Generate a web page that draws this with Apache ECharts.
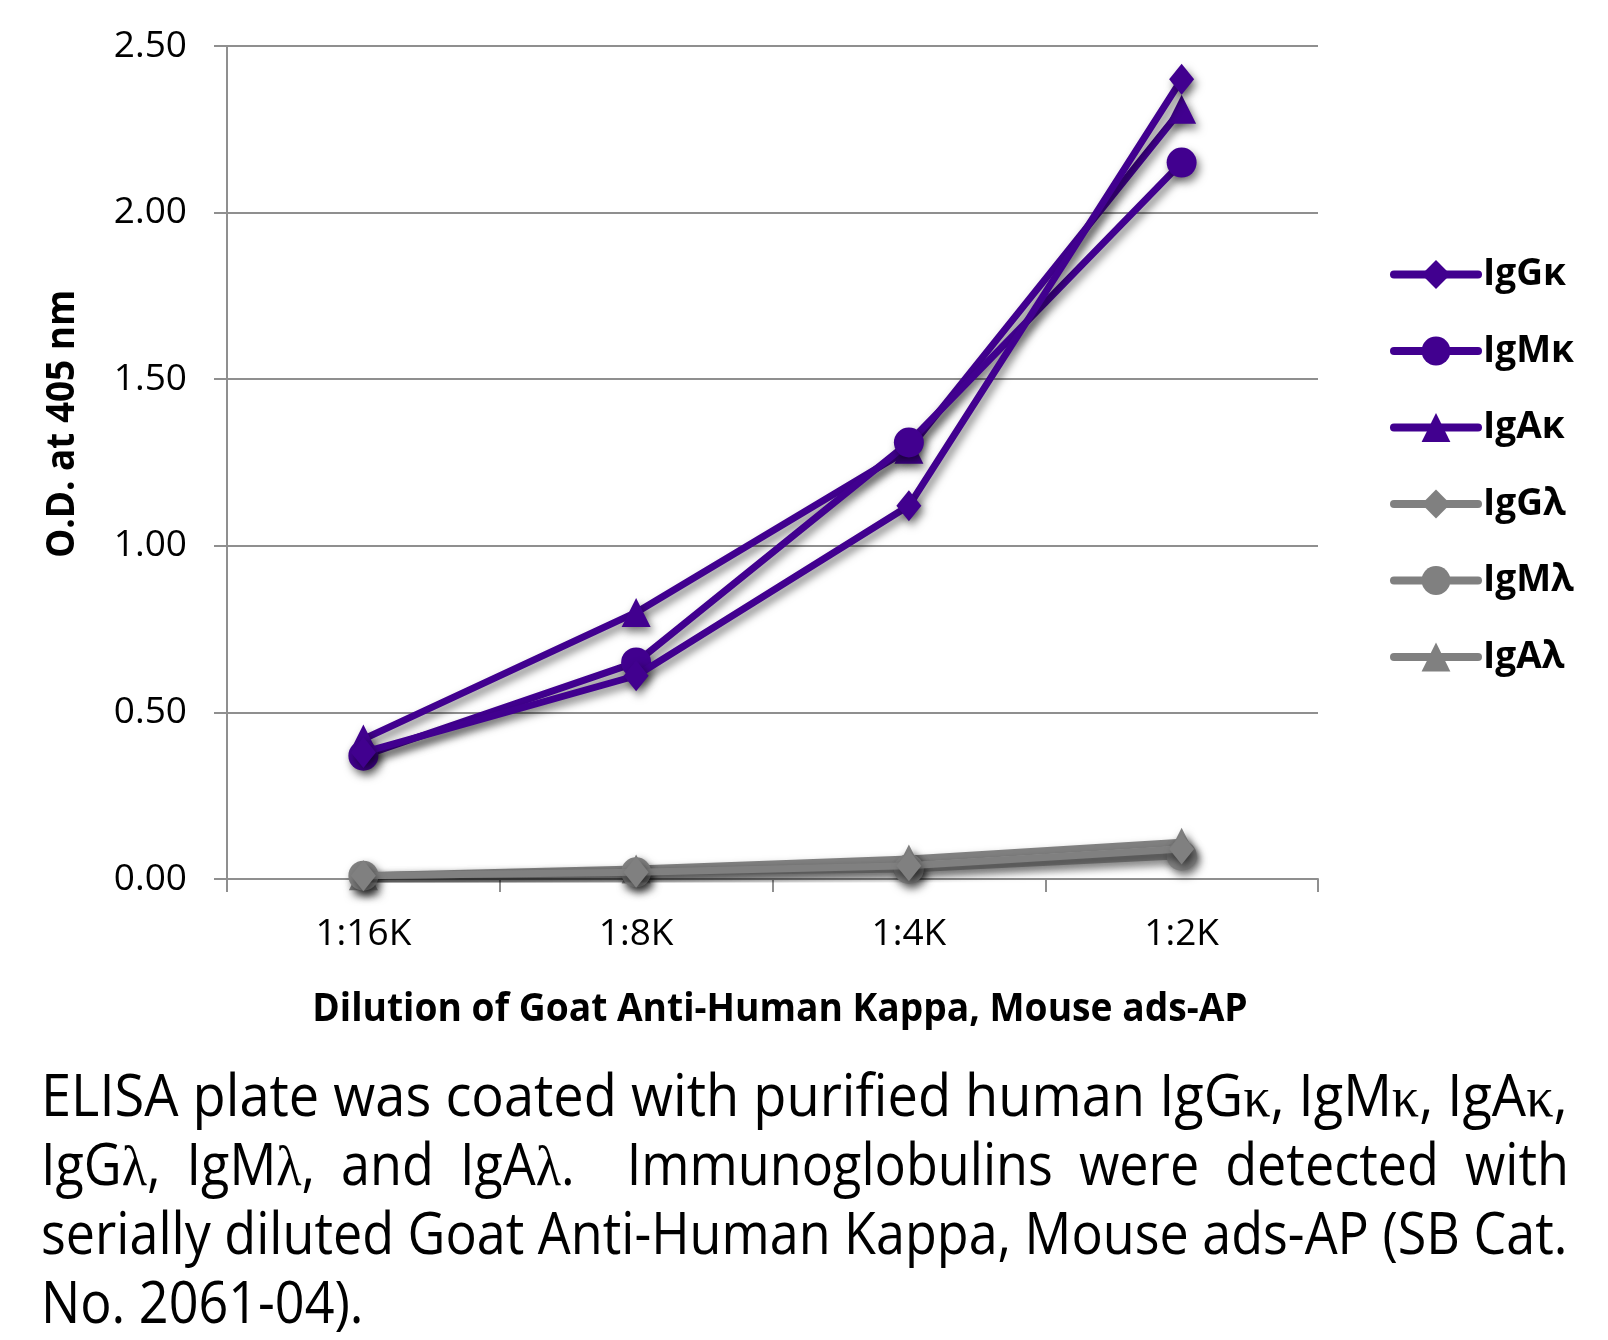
<!DOCTYPE html>
<html>
<head>
<meta charset="utf-8">
<script src="https://cdn.jsdelivr.net/npm/echarts@6/dist/echarts.min.js"></script>
<style>
  html, body { margin: 0; padding: 0; background: #fff; }
  #chart { position: absolute; left: 0; top: 0; width: 1608px; height: 1340px; }
  #caption { position: absolute; left: 41px; top: 1059px; width: 1528px; }
  .cl { font-family: "Open Sans", sans-serif; font-size: 58px; line-height: 69px; height: 69px;
        color: #000; white-space: nowrap; transform-origin: 0 0; }
  .j { text-align: justify; text-align-last: justify; }
  .g { font-family: "Liberation Serif", "DejaVu Serif", serif; }
</style>
</head>
<body>
<div id="chart"></div>
<div id="caption"></div>
<script>
// ---- data ----
const categories = ['1:16K', '1:8K', '1:4K', '1:2K'];
const seriesNames = ['IgGκ', 'IgMκ', 'IgAκ', 'IgGλ', 'IgMλ', 'IgAλ'];
const IgGk = [0.38, 0.61, 1.12, 2.40];
const IgMk = [0.37, 0.65, 1.31, 2.15];
const IgAk = [0.42, 0.80, 1.29, 2.31];
const IgGl = [0.01, 0.02, 0.04, 0.09];
const IgMl = [0.01, 0.02, 0.03, 0.07];
const IgAl = [0.01, 0.03, 0.06, 0.11];
const yMin = 0, yMax = 2.5, yStep = 0.5;
const yTitle = 'O.D. at 405 nm';
const xTitle = 'Dilution of Goat Anti-Human Kappa, Mouse ads-AP';
const captionLines = [
  'ELISA plate was coated with purified human IgG{κ}, IgM{κ}, IgA{κ},',
  'IgG{λ}, IgM{λ}, and IgA{λ}.\u00a0 Immunoglobulins were detected with',
  'serially diluted Goat Anti-Human Kappa, Mouse ads-AP (SB Cat.',
  'No. 2061-04).'
];

// ---- styles ----
const PURPLE = '#41008f';
const GRAY = '#808080';
const AXIS = '#8f8f8f';
const values = [IgGk, IgMk, IgAk, IgGl, IgMl, IgAl];
const colors = [PURPLE, PURPLE, PURPLE, GRAY, GRAY, GRAY];
const symbols = ['diamond', 'circle', 'triangle', 'diamond', 'circle', 'triangle'];
const sizes = [[25, 31], 30, [29, 29], [25, 31], 30, [29, 29]];

const series = seriesNames.map((name, i) => ({
  name: name,
  type: 'line',
  data: values[i],
  symbol: symbols[i],
  symbolSize: sizes[i],
  showAllSymbol: true,
  color: colors[i],
  lineStyle: {
    color: colors[i], width: 7, cap: 'round', join: 'round',
    shadowColor: 'rgba(0,0,0,0.5)', shadowBlur: 8, shadowOffsetX: 3, shadowOffsetY: 5
  },
  itemStyle: {
    color: colors[i],
    shadowColor: 'rgba(0,0,0,0.5)', shadowBlur: 8, shadowOffsetX: 3, shadowOffsetY: 5
  },
  emphasis: { disabled: true },
  z: 10 - i
}));

const chart = echarts.init(document.getElementById('chart'), null, { renderer: 'canvas' });
chart.setOption({
  animation: false,
  backgroundColor: '#ffffff',
  grid: { left: 227, right: 290, top: 46, bottom: 461, containLabel: false },
  xAxis: {
    type: 'category',
    data: categories,
    boundaryGap: true,
    axisLine: { show: true, lineStyle: { color: AXIS, width: 2 } },
    axisTick: { show: true, length: 13, interval: 0, lineStyle: { color: AXIS, width: 2 } },
    axisLabel: { margin: 37, color: '#000', fontFamily: 'Open Sans', fontSize: 37 },
    splitLine: { show: false }
  },
  yAxis: {
    type: 'value',
    min: yMin, max: yMax, interval: yStep,
    axisLine: { show: true, lineStyle: { color: AXIS, width: 2 } },
    axisTick: { show: true, length: 13, inside: false, lineStyle: { color: AXIS, width: 2 } },
    axisLabel: { margin: 40, color: '#000', fontFamily: 'Open Sans', fontSize: 37,
                 formatter: v => v.toFixed(2) },
    splitLine: { show: true, lineStyle: { color: AXIS, width: 2 } }
  },
  legend: {
    orient: 'vertical',
    left: 1390, top: 256, padding: 0,
    itemWidth: 84, itemHeight: 36, itemGap: 39.5,
    data: seriesNames,
    textStyle: { color: '#000', fontFamily: 'Open Sans', fontWeight: 'bold', fontSize: 37, lineHeight: 37 },
    lineStyle: { width: 8, cap: 'round', shadowBlur: 0, shadowOffsetX: 0, shadowOffsetY: 0, shadowColor: 'transparent' },
    itemStyle: { shadowBlur: 0, shadowOffsetX: 0, shadowOffsetY: 0, shadowColor: 'transparent' },
    selectedMode: false
  },
  graphic: [
    {
      type: 'text', x: 63, y: 424, rotation: Math.PI / 2, scaleX: 0.945, silent: true,
      style: { text: yTitle, fill: '#000', font: 'bold 39px "Open Sans"', align: 'center', verticalAlign: 'middle' }
    },
    {
      type: 'text', x: 780, y: 1010, scaleX: 0.93, silent: true,
      style: { text: xTitle, fill: '#000', font: 'bold 40px "Open Sans"', align: 'center', verticalAlign: 'middle' }
    }
  ],
  series: series
});

// ---- caption (real text, justified lines) ----
const cap = document.getElementById('caption');
const fullW = 1528;
const lineEls = captionLines.map((t) => {
  const d = document.createElement('div');
  d.className = 'cl';
  d.innerHTML = t.replace(/\{(.)\}/g, '<span class="g">$1</span>');
  cap.appendChild(d);
  return d;
});
const nat = lineEls.map(d => {
  const s = document.createElement('span');
  s.innerHTML = d.innerHTML;
  s.style.whiteSpace = 'nowrap';
  d.innerHTML = '';
  d.appendChild(s);
  const w = s.getBoundingClientRect().width;
  d.innerHTML = s.innerHTML;
  return w;
});
const s1 = fullW / nat[0], s3 = fullW / nat[2];
const sAvg = Math.min(s1, s3);
lineEls.forEach((d, i) => {
  let sc = sAvg;
  if (i === 0) sc = s1 * 0.999;
  if (i === 2) sc = s3 * 0.999;
  d.style.width = (fullW / sc) + 'px';
  d.style.transform = 'scaleX(' + sc + ')';
  if (i === 1) { d.classList.add('j'); d.style.whiteSpace = 'normal'; }
});
</script>
</body>
</html>
